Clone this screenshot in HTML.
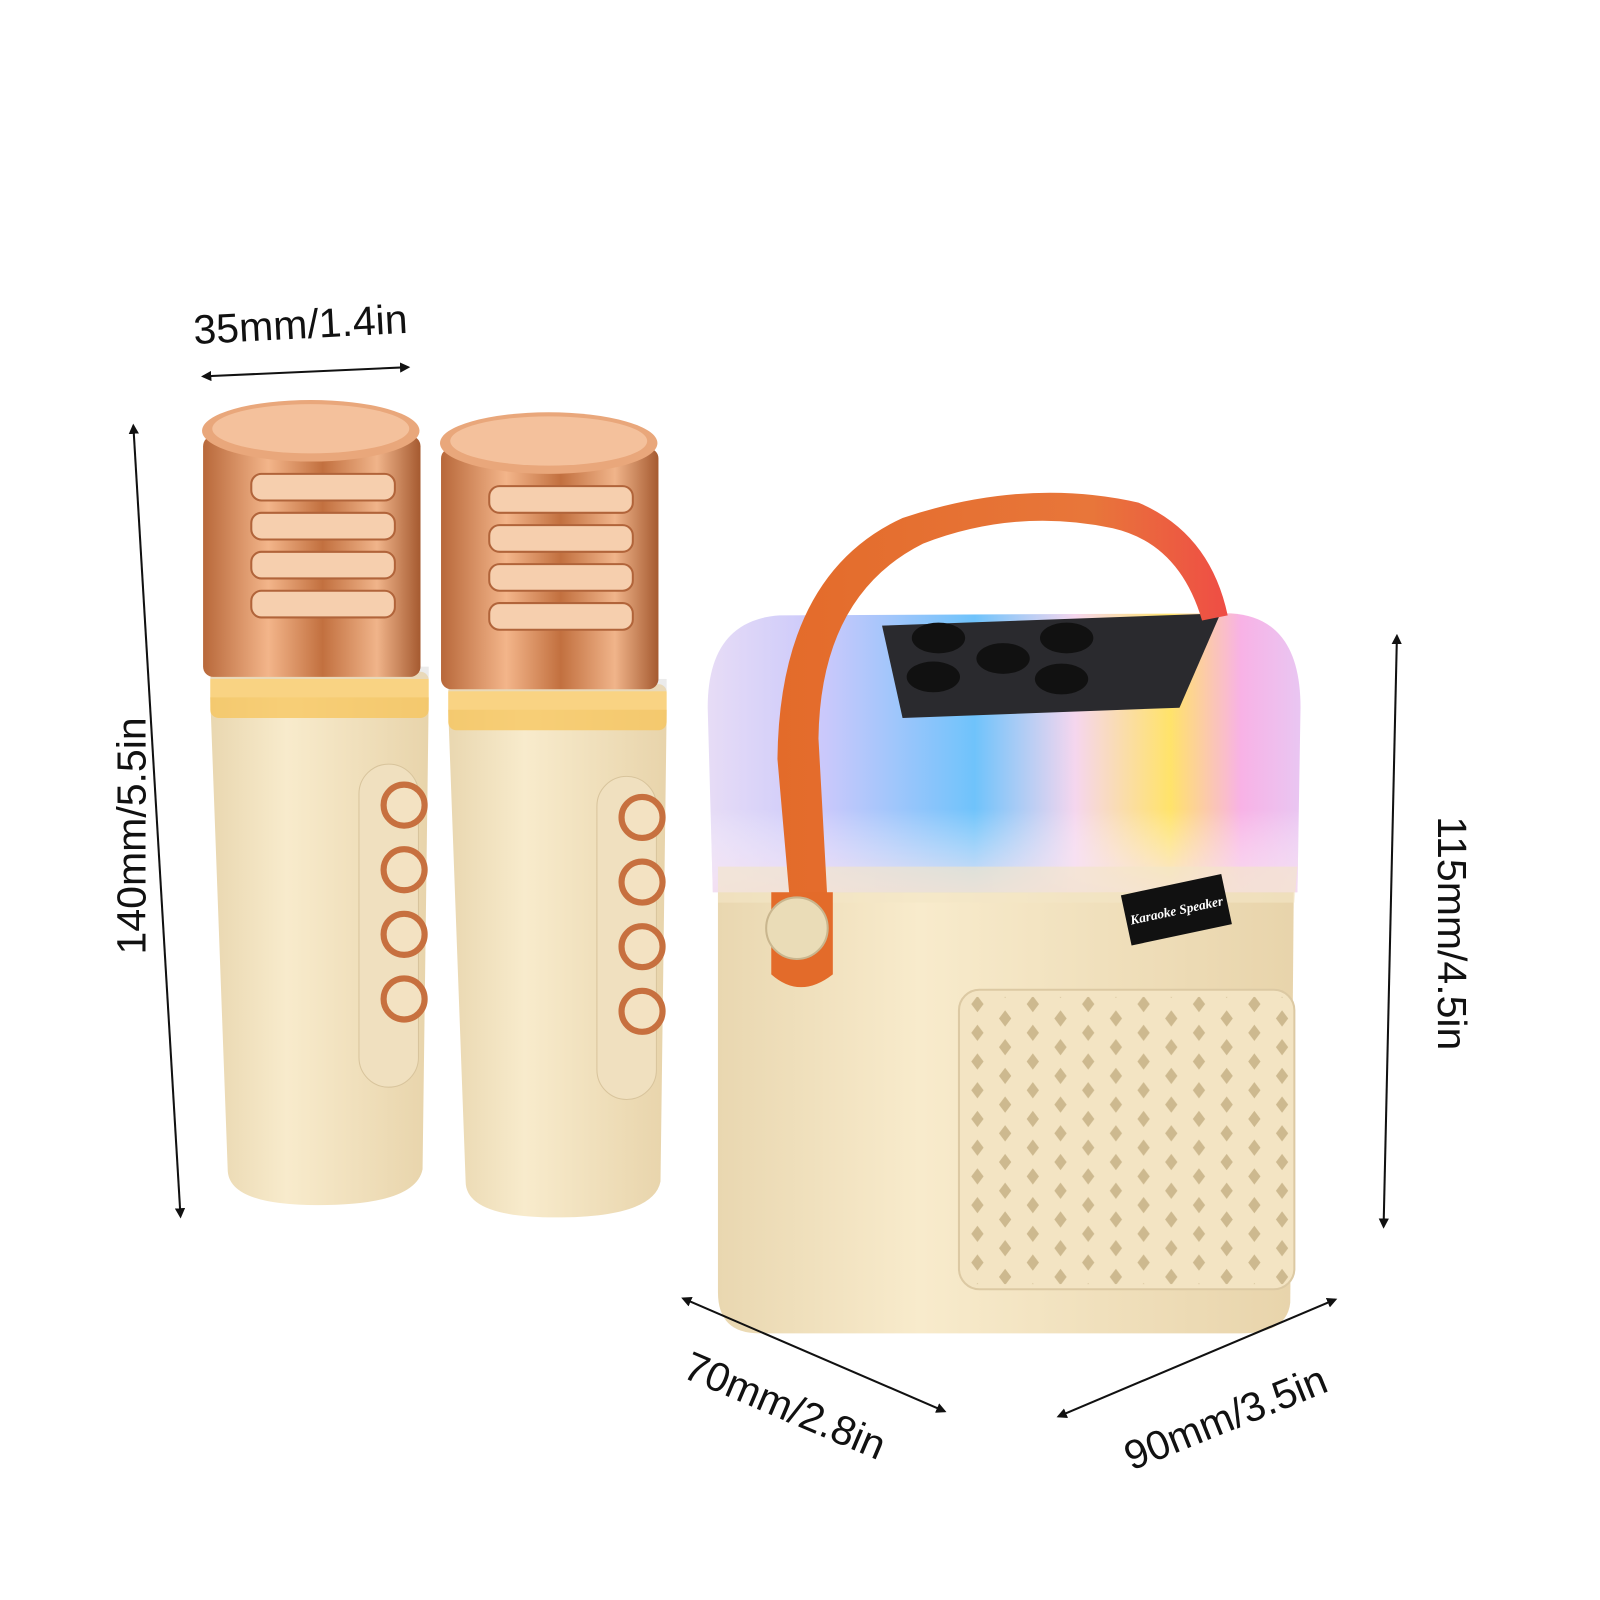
<!DOCTYPE html>
<html><head><meta charset="utf-8"><style>
html,body{margin:0;padding:0;background:#fff;width:1600px;height:1600px;overflow:hidden}
svg{display:block}
text{font-family:"Liberation Sans",sans-serif;fill:#111}
</style></head><body>
<svg width="1600" height="1600" viewBox="0 0 1560 1560" xmlns="http://www.w3.org/2000/svg">
<defs>
<marker id="ah" markerWidth="10" markerHeight="10" refX="8" refY="5" orient="auto-start-reverse" markerUnits="userSpaceOnUse"><path d="M0,0 L10,5 L0,10 z" fill="#111"/></marker>
<linearGradient id="cop" x1="0" x2="1">
<stop offset="0" stop-color="#b8683a"/><stop offset=".3" stop-color="#f3b58a"/><stop offset=".55" stop-color="#c2703f"/><stop offset=".8" stop-color="#f0b48a"/><stop offset="1" stop-color="#a55a30"/></linearGradient>
<linearGradient id="cream" x1="0" x2="1">
<stop offset="0" stop-color="#e9d7b0"/><stop offset=".35" stop-color="#f8ebcc"/><stop offset="1" stop-color="#e8d4ab"/></linearGradient>
<linearGradient id="glow" x1="0" x2="1">
<stop offset="0" stop-color="#e7dcf6"/><stop offset=".2" stop-color="#c9c8fb"/><stop offset=".45" stop-color="#6fc3fb"/><stop offset=".62" stop-color="#f5d6ee"/><stop offset=".78" stop-color="#ffe36a"/><stop offset=".9" stop-color="#f8b2e6"/><stop offset="1" stop-color="#e9c6f2"/></linearGradient>
<linearGradient id="glowv" x1="0" y1="0" x2="0" y2="1">
<stop offset="0" stop-color="#fff" stop-opacity="0"/><stop offset=".7" stop-color="#fff" stop-opacity="0"/><stop offset="1" stop-color="#f6dff0" stop-opacity=".8"/></linearGradient>
<linearGradient id="strap" x1="0" x2="1"><stop offset="0" stop-color="#e36b2a"/><stop offset=".7" stop-color="#e8763a"/><stop offset="1" stop-color="#ef4d45"/></linearGradient>
<pattern id="holes" x="940" y="965" width="54" height="28" patternUnits="userSpaceOnUse">
<path d="M13,6 L19,14 L13,22 L7,14z" fill="#cdb98f"/><path d="M40,-8 L46,0 L40,8 L34,0z M40,20 L46,28 L40,36 L34,28z" fill="#cdb98f"/></pattern>
</defs>

<g id="mic1">
<path d="M205,680 L418,680 L412,1140 Q405,1175 310,1175 Q222,1175 222,1140 Z" fill="url(#cream)"/>
<rect x="205" y="655" width="213" height="45" rx="8" fill="#f7c45a" opacity=".75"/>
<rect x="205" y="650" width="213" height="12" fill="#ddd" opacity=".6"/>
<rect x="198" y="425" width="212" height="235" rx="10" fill="url(#cop)"/>
<ellipse cx="303" cy="420" rx="106" ry="30" fill="#e9a77b"/>
<ellipse cx="303" cy="418" rx="96" ry="24" fill="#f4c19c"/>
<g fill="#f6cfae" stroke="#b1643a" stroke-width="2">
<rect x="245" y="462" width="140" height="26" rx="10"/>
<rect x="245" y="500" width="140" height="26" rx="10"/>
<rect x="245" y="538" width="140" height="26" rx="10"/>
<rect x="245" y="576" width="140" height="26" rx="10"/>
</g>
<rect x="350" y="745" width="58" height="315" rx="29" fill="#f0e0bf" stroke="#d8c49c"/>
<g fill="#f3e2c2" stroke="#c7703f" stroke-width="6">
<circle cx="394" cy="785" r="20"/><circle cx="394" cy="848" r="20"/><circle cx="394" cy="911" r="20"/><circle cx="394" cy="974" r="20"/>
</g>
</g>
<use href="#mic1" transform="translate(232,12)"/>

<path d="M700,800 L1262,800 L1258,1270 Q1255,1300 1210,1300 L740,1300 Q700,1300 700,1260 Z" fill="url(#cream)"/>
<path d="M690,690 Q690,605 760,600 L1200,598 Q1268,602 1268,690 L1265,870 L695,870 Z" fill="url(#glow)"/>
<path d="M690,690 Q690,605 760,600 L1200,598 Q1268,602 1268,690 L1265,870 L695,870 Z" fill="url(#glowv)"/>
<path d="M860,610 L1190,598 L1150,690 L880,700 Z" fill="#2a2a2e"/>
<g fill="#111"><ellipse cx="915" cy="622" rx="26" ry="15"/><ellipse cx="1040" cy="622" rx="26" ry="15"/><ellipse cx="978" cy="642" rx="26" ry="15"/><ellipse cx="910" cy="660" rx="26" ry="15"/><ellipse cx="1035" cy="662" rx="26" ry="15"/></g>
<path d="M700,845 L1265,845 L1262,880 L700,880 Z" fill="#f4e6c6" opacity=".6"/>
<rect x="935" y="965" width="327" height="292" rx="20" fill="#f3e4c3" stroke="#dcc9a3" stroke-width="2"/>
<rect x="942" y="972" width="315" height="280" fill="url(#holes)"/>
<g transform="translate(1147,887) rotate(-12)"><rect x="-50" y="-25" width="100" height="50" fill="#111"/><text x="0" y="5" text-anchor="middle" font-style="italic" font-weight="bold" font-size="13" style="fill:#fff;font-family:'Liberation Serif',serif">Karaoke Speaker</text></g>
<path d="M772,900 L758,740 Q760,560 880,505 Q1000,465 1110,490 Q1180,520 1197,600 L1172,605 Q1150,530 1085,515 Q990,495 900,530 Q800,580 798,720 L808,900 Z" fill="url(#strap)"/>
<path d="M752,870 L812,870 L812,950 Q780,975 752,950 Z" fill="#e36b2a"/>
<circle cx="777" cy="905" r="30" fill="#eadcb7" stroke="#c9b68e" stroke-width="2"/>

<g stroke="#111" stroke-width="2" fill="none" marker-start="url(#ah)" marker-end="url(#ah)">
<line x1="198" y1="367" x2="398" y2="358"/>
<line x1="130" y1="415" x2="176" y2="1186"/>
<line x1="1362" y1="620" x2="1349" y2="1196"/>
<line x1="666" y1="1266" x2="921" y2="1376"/>
<line x1="1032" y1="1381" x2="1302" y2="1267"/>
</g>
<g font-size="40">
<text x="293" y="330" text-anchor="middle" transform="rotate(-3 293 318)">35mm/1.4in</text>
<text transform="translate(142,815) rotate(-90)" text-anchor="middle">140mm/5.5in</text>
<text transform="translate(1402,910) rotate(90)" text-anchor="middle">115mm/4.5in</text>
<text transform="translate(760,1383) rotate(23)" text-anchor="middle">70mm/2.8in</text>
<text transform="translate(1200,1395) rotate(-22)" text-anchor="middle">90mm/3.5in</text>
</g>
</svg>
</body></html>
